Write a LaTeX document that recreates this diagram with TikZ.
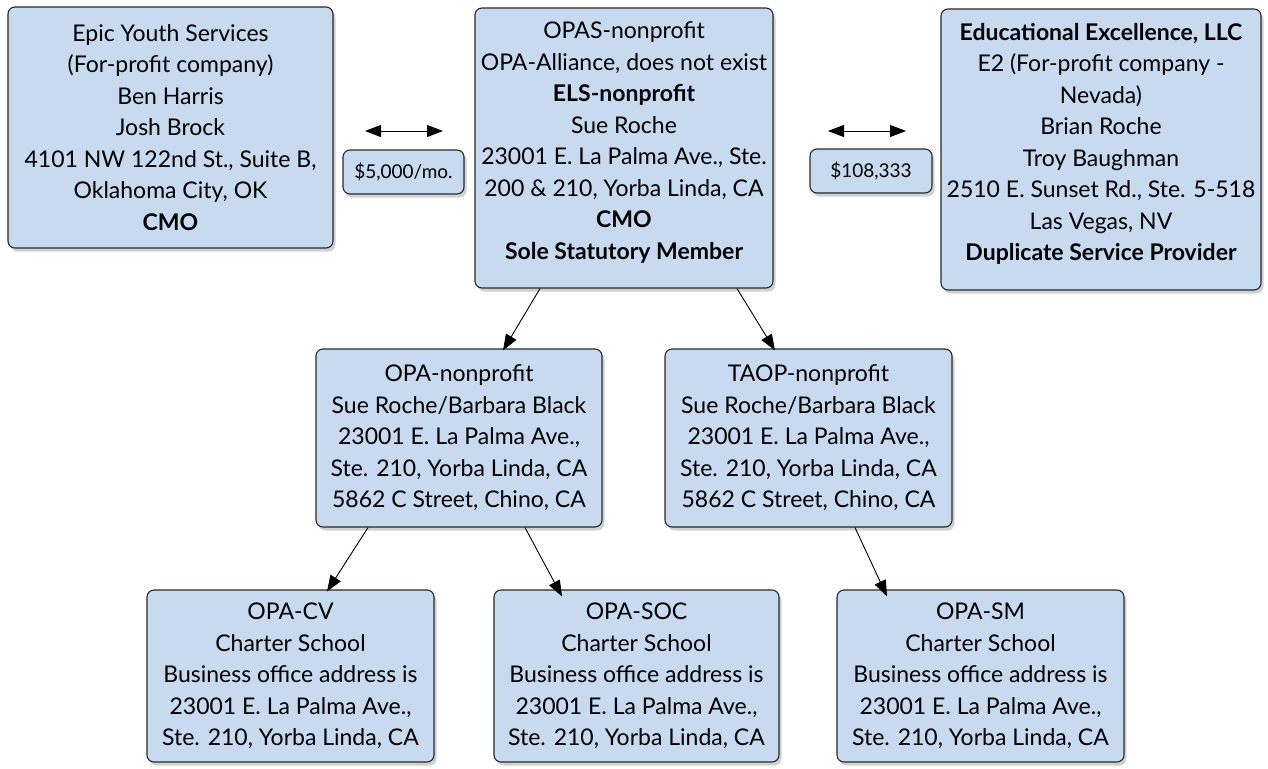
\documentclass[tikz,border=0pt]{standalone}
\usepackage{fontspec}
\setmainfont{Lato}
\usetikzlibrary{arrows.meta,shadows}
\definecolor{boxfill}{RGB}{200,218,240}
\definecolor{boxline}{RGB}{40,40,40}
\tikzset{
  orgbox/.style={draw=boxline, line width=1.1pt, fill=boxfill, rounded corners=7pt,
    align=center, inner sep=0pt, font=\fontsize{23}{31.5}\selectfont,
    drop shadow={shadow xshift=2.5pt, shadow yshift=-3.5pt, opacity=0.3, fill=black!60}},
  feebox/.style={orgbox, font=\fontsize{19}{22}\selectfont},
  link/.style={-{Triangle[length=16pt,width=12pt]}, line width=0.9pt, black},
  money/.style={{Triangle[length=16pt,width=12pt]}-{Triangle[length=16pt,width=12pt]}, line width=0.9pt, black}
}
\begin{document}
\begin{tikzpicture}[x=1pt,y=-1pt]
\useasboundingbox (0,0) rectangle (1268,768);

\node[orgbox, minimum width=325pt, minimum height=241pt] (epic) at (170.5,127.5)
  {Epic Youth Services\\(For-profit company)\\Ben Harris\\Josh Brock\\4101 NW 122nd St., Suite B,\\Oklahoma City, OK\\\textbf{CMO}};

\node[orgbox, minimum width=298pt, minimum height=280pt] (opas) at (624,148)
  {OPAS-nonprofit\\OPA-Alliance, does not exist\\\textbf{ELS-nonprofit}\\Sue Roche\\23001 E. La Palma Ave., Ste.\\200 \& 210, Yorba Linda, CA\\\textbf{CMO}\\\textbf{Sole Statutory Member}\\[-26pt]\strut};

\node[orgbox, minimum width=320pt, minimum height=281pt] (edu) at (1101,149.5)
  {\textbf{Educational Excellence, LLC}\\E2 (For-profit company -\\Nevada)\\Brian Roche\\Troy Baughman\\2510 E. Sunset Rd., Ste. 5-518\\Las Vegas, NV\\\textbf{Duplicate Service Provider}\\[-26pt]\strut};

\node[feebox, minimum width=121pt, minimum height=44pt] (fee1) at (403.5,172) {\$5,000/mo.};
\node[feebox, minimum width=122pt, minimum height=44pt] (fee2) at (871,171) {\$108,333};

\coordinate (m1a) at (365,131);
\coordinate (m1b) at (443,131);
\coordinate (m2a) at (828,131);
\coordinate (m2b) at (906,131);
\draw[money] (m1a) -- (m1b);
\draw[money] (m2a) -- (m2b);

\node[orgbox, minimum width=286pt, minimum height=178pt] (opanp) at (459,438)
  {OPA-nonprofit\\Sue Roche/Barbara Black\\23001 E. La Palma Ave.,\\Ste. 210, Yorba Linda, CA\\5862 C Street, Chino, CA};
\node[orgbox, minimum width=287pt, minimum height=178pt] (taop) at (808.5,438)
  {TAOP-nonprofit\\Sue Roche/Barbara Black\\23001 E. La Palma Ave.,\\Ste. 210, Yorba Linda, CA\\5862 C Street, Chino, CA};

\node[orgbox, minimum width=287pt, minimum height=172pt] (cv) at (290.5,676)
  {OPA-CV\\Charter School\\Business office address is\\23001 E. La Palma Ave.,\\Ste. 210, Yorba Linda, CA};
\node[orgbox, minimum width=285pt, minimum height=172pt] (soc) at (636.5,676)
  {OPA-SOC\\Charter School\\Business office address is\\23001 E. La Palma Ave.,\\Ste. 210, Yorba Linda, CA};
\node[orgbox, minimum width=287pt, minimum height=172pt] (sm) at (980.5,676)
  {OPA-SM\\Charter School\\Business office address is\\23001 E. La Palma Ave.,\\Ste. 210, Yorba Linda, CA};

\draw[link] ([xshift=-84pt]opas.south) -- ([xshift=44pt,yshift=-2pt]opanp.north);
\draw[link] ([xshift=113pt]opas.south) -- ([xshift=-33.5pt,yshift=-2pt]taop.north);
\draw[link] ([xshift=-91pt]opanp.south) -- ([xshift=36.5pt,yshift=-2pt]cv.north);
\draw[link] ([xshift=66pt]opanp.south) -- ([xshift=-74.5pt,yshift=-7pt]soc.north);
\draw[link] ([xshift=46.5pt]taop.south) -- ([xshift=-93.5pt,yshift=-7pt]sm.north);
\end{tikzpicture}
\end{document}
